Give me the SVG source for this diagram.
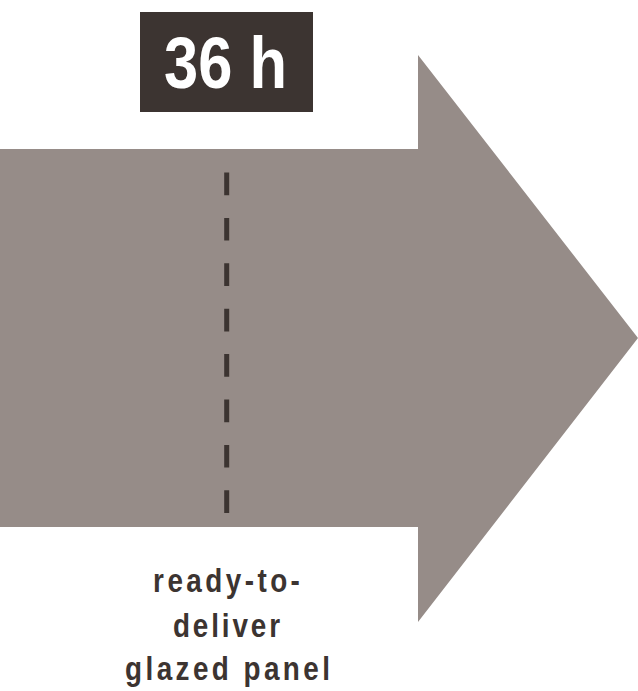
<svg xmlns="http://www.w3.org/2000/svg" width="638" height="691" viewBox="0 0 638 691">
<style>
.lbl{font-family:"Liberation Sans",Arial,sans-serif;font-weight:bold;fill:#3c3431;text-anchor:middle;font-size:34px}
</style>
<rect width="638" height="691" fill="#ffffff"/>
<g id="arrow">
<polygon points="0,149 418,149 418,55 638,338 418,622 418,527 0,527" fill="#968c88"/>
</g>
<g id="connectors">
<line x1="226.7" y1="172.5" x2="226.7" y2="513" stroke="#3c3431" stroke-width="5" stroke-dasharray="22.7 22.7"/>
</g>
<g id="time-box">
<rect x="140" y="12" width="173" height="100" fill="#3c3431"/>
<text x="225.5" y="88" font-family="Liberation Sans, Arial, sans-serif" font-weight="bold" font-size="72" fill="#ffffff" text-anchor="middle" textLength="123" lengthAdjust="spacingAndGlyphs">36 h</text>
</g>
<g id="caption">
<text class="lbl" transform="translate(226.5,592) scale(0.82,1)" x="0" y="0" textLength="179" lengthAdjust="spacing">ready-to-</text>
<text class="lbl" transform="translate(226.5,637) scale(0.82,1)" x="0" y="0" textLength="130.5" lengthAdjust="spacing">deliver</text>
<text class="lbl" transform="translate(227.5,680) scale(0.82,1)" x="0" y="0" textLength="250" lengthAdjust="spacing">glazed panel</text>
</g>
</svg>
